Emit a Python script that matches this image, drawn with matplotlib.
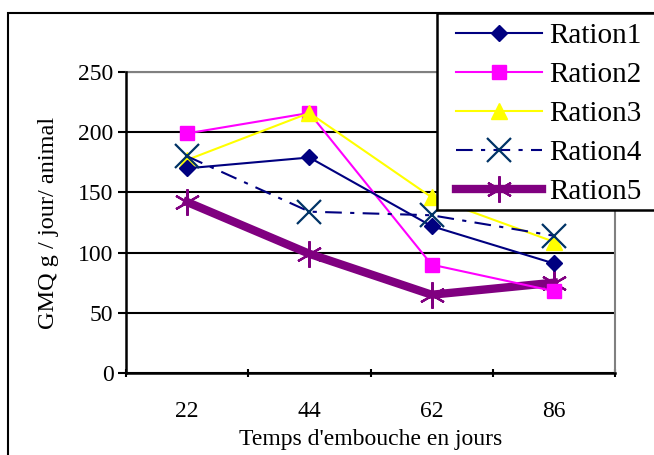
import matplotlib.pyplot as plt
from matplotlib.patches import Rectangle

plt.rcParams["font.family"] = ["Liberation Serif", "DejaVu Serif"]

# data
days = ["22", "44", "62", "86"]
ration1 = [170, 179, 122, 91]
ration2 = [199, 216, 90, 68]
ration3 = [177, 216, 146, 109]
ration4 = [180, 134, 131, 114]
ration5 = [142, 99, 65, 75]

fig = plt.figure(figsize=(6.54, 4.55), dpi=100)
ax = fig.add_axes([126 / 654, 1 - 373 / 455, (615 - 126) / 654, (373 - 72) / 455])

x = list(range(len(days)))
ax.plot(x, ration1, color="#000080", lw=1.5, marker="D", ms=8,
        mfc="#000080", mec="#000080", label="Ration1", zorder=5)
ax.plot(x, ration2, color="#FF00FF", lw=1.5, marker="s", ms=10,
        mfc="#FF00FF", mec="#FF00FF", label="Ration2", zorder=4)
ax.plot(x, ration3, color="#FFFF00", lw=1.5, marker="^", ms=11,
        mfc="#FFFF00", mec="#FFFF00", label="Ration3", zorder=4)
ax.plot(x, ration4, color="#000080", lw=1.5, ls=(0, (8, 4, 2, 4)), marker="x",
        ms=17, mew=1.6, mec="#003366", label="Ration4", zorder=6)
ax.plot(x, ration5, color="#800080", lw=6, marker=(6, 2, 0), ms=19,
        mew=1.6, mec="#800080", label="Ration5", zorder=3)

ax.set_xlim(-0.5, len(days) - 0.5)
ax.set_ylim(0, 250)
ax.set_yticks([0, 50, 100, 150, 200, 250])
ax.set_xticks(x)
ax.set_xticklabels(days)
ax.set_xticks([i - 0.5 for i in range(len(days) + 1)], minor=True)
ax.tick_params(axis="x", which="major", length=0, pad=20, labelsize=17)
ax.tick_params(axis="x", which="minor", length=6, width=1.5, direction="inout")
ax.tick_params(axis="y", length=6, width=1.5, direction="out", labelsize=17, pad=3)

ax.grid(axis="y", color="black", lw=1.5, zorder=1)
ax.set_axisbelow(True)
for s in ["left", "bottom"]:
    ax.spines[s].set_linewidth(1.8)
    ax.spines[s].set_color("black")
for s in ["top", "right"]:
    ax.spines[s].set_linewidth(1.5)
    ax.spines[s].set_color("#808080")
    ax.spines[s].set_zorder(2)

ax.set_xlabel("Temps d'embouche en jours", fontsize=17, labelpad=5)
ax.set_ylabel("GMQ g / jour/ animal", fontsize=17.5, labelpad=14)

# outer chart frame (runs past right and bottom edges)
fig.patches.append(Rectangle((8 / 654, -0.2), 1.2, 1.2 - 13 / 455, fill=False,
                             lw=1.5, ec="black", transform=fig.transFigure))

# legend box drawn separately so it can run off the right edge
ax.add_patch(Rectangle((437 / 654, 1 - 210 / 455), 0.5, (210 - 13) / 455,
                       fill=True, fc="white", lw=1.8, ec="black",
                       transform=fig.transFigure, clip_on=False, zorder=9))

leg = ax.legend(loc="upper left", bbox_to_anchor=(456 / 654, 1 - 23 / 455),
                bbox_transform=fig.transFigure, fontsize=21, frameon=False,
                handlelength=2.95, handletextpad=0.25, labelspacing=0.43,
                borderpad=0, borderaxespad=0)
leg.set_zorder(10)

fig.savefig("out.png", dpi=100)
